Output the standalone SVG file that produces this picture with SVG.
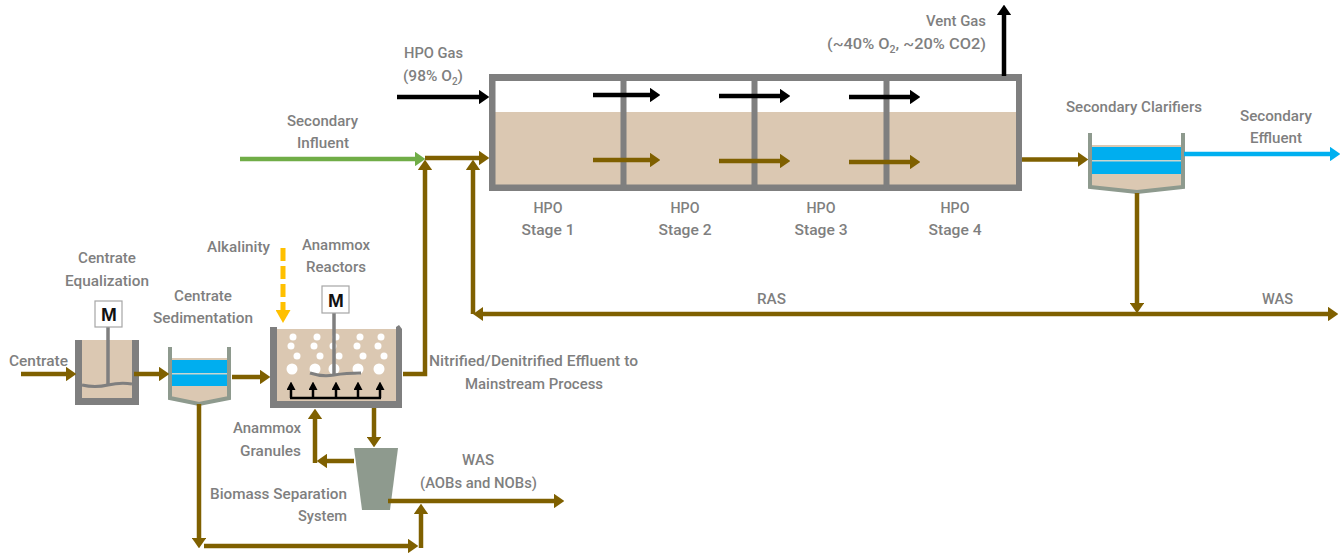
<svg xmlns="http://www.w3.org/2000/svg" width="1343" height="555" viewBox="0 0 1343 555">
<style>
text{font-family:Roboto,"Liberation Sans",Arial,sans-serif;font-size:15.5px;font-weight:500;fill:#7f7f7f;text-anchor:middle}
.s{font-size:10px}
.m{font-family:"Liberation Sans",Arial,sans-serif;font-size:19px;font-weight:bold;fill:#111}
.wall{fill:#7f7f7f}
.grn{fill:#8e9a8e}
.liq{fill:#dbc8b2}
.blue{fill:#00aeef}
.box{fill:#fff;stroke:#a6a6a6;stroke-width:1.2}
.shaft{stroke:#7f7f7f;stroke-width:3.5;fill:none}
.imp{stroke:#7f7f7f;stroke-width:3;fill:none}
.c{fill:none;stroke-width:4.5}
.br{stroke:#7f6000}
.bk{stroke:#000}
.gr{stroke:#70ad47}
.bl{stroke:#00b0f0}
.go{stroke:#ffc000;stroke-width:5}
.bub{fill:#fff}
</style>
<defs>
<marker id="aBr" markerWidth="2.3" markerHeight="3.2" refX="0" refY="1.6" orient="auto" markerUnits="strokeWidth"><path d="M0 0L2.3 1.6L0 3.2Z" fill="#7f6000"/></marker>
<marker id="aBk" markerWidth="2.3" markerHeight="3.2" refX="0" refY="1.6" orient="auto" markerUnits="strokeWidth"><path d="M0 0L2.3 1.6L0 3.2Z" fill="#000"/></marker>
<marker id="aGr" markerWidth="2.3" markerHeight="3.2" refX="0" refY="1.6" orient="auto" markerUnits="strokeWidth"><path d="M0 0L2.3 1.6L0 3.2Z" fill="#70ad47"/></marker>
<marker id="aBl" markerWidth="2.3" markerHeight="3.2" refX="0" refY="1.6" orient="auto" markerUnits="strokeWidth"><path d="M0 0L2.3 1.6L0 3.2Z" fill="#00b0f0"/></marker>
<marker id="aGo" markerWidth="2.6" markerHeight="3" refX="0" refY="1.5" orient="auto" markerUnits="strokeWidth"><path d="M0 0L2.6 1.5L0 3Z" fill="#ffc000"/></marker>
<marker id="aSm" markerWidth="3.4" markerHeight="3.6" refX="0" refY="1.8" orient="auto" markerUnits="strokeWidth"><path d="M0 0L3.4 1.8L0 3.6Z" fill="#000"/></marker>
</defs>

<g id="hpo-reactor">
<rect x="489" y="112" width="533" height="79" class="liq"/>
<path class="wall" fill-rule="evenodd" d="M489 74H1022V191H489ZM495.500 81V184.500H1016V81Z"/>
<rect x="620.500" y="78" width="6" height="110" class="wall"/>
<rect x="751.500" y="78" width="6" height="110" class="wall"/>
<rect x="883.500" y="78" width="6" height="110" class="wall"/>
<text x="548" y="213" textLength="29" lengthAdjust="spacingAndGlyphs">HPO</text>
<text x="548" y="235" textLength="53" lengthAdjust="spacingAndGlyphs">Stage 1</text>
<text x="685" y="213" textLength="29" lengthAdjust="spacingAndGlyphs">HPO</text>
<text x="685" y="235" textLength="53" lengthAdjust="spacingAndGlyphs">Stage 2</text>
<text x="821" y="213" textLength="29" lengthAdjust="spacingAndGlyphs">HPO</text>
<text x="821" y="235" textLength="53" lengthAdjust="spacingAndGlyphs">Stage 3</text>
<text x="955" y="213" textLength="29" lengthAdjust="spacingAndGlyphs">HPO</text>
<text x="955" y="235" textLength="53" lengthAdjust="spacingAndGlyphs">Stage 4</text>
</g>

<g id="secondary-clarifier">
<path class="liq" d="M1090 145H1183V187L1137 192L1090 187Z"/>
<rect x="1091" y="147" width="91" height="27" class="blue"/>
<rect x="1091" y="160" width="91" height="1.500" fill="#c9d6d0"/>
<path d="M1090 133V187L1137 192L1183 187V133" fill="none" stroke="#8e9a8e" stroke-width="4"/>
<text x="1134" y="112" textLength="136" lengthAdjust="spacingAndGlyphs">Secondary Clarifiers</text>
</g>

<g id="centrate-equalization">
<rect x="75" y="340" width="64" height="65" class="liq"/>
<path class="wall" d="M75 340H82V398H132V340H139V405H75Z"/>
<path class="imp" d="M82 385Q95 388 108 385T132 384"/>
<line x1="108" y1="326" x2="108" y2="385" class="shaft"/>
<rect x="95" y="301" width="27" height="26" class="box"/>
<text x="109" y="321" class="m">M</text>
<text x="107" y="263" textLength="58" lengthAdjust="spacingAndGlyphs">Centrate</text>
<text x="107" y="286" textLength="84" lengthAdjust="spacingAndGlyphs">Equalization</text>
</g>

<g id="centrate-sedimentation">
<path class="liq" d="M170 358H229V398L199 404L170 398Z"/>
<rect x="171" y="360" width="56" height="26" class="blue"/>
<rect x="171" y="373" width="56" height="1.500" fill="#c9d6d0"/>
<path d="M170 347V398L199 404L229 398V347" fill="none" stroke="#8e9a8e" stroke-width="4"/>
<text x="203" y="301" textLength="58" lengthAdjust="spacingAndGlyphs">Centrate</text>
<text x="203" y="323" textLength="100" lengthAdjust="spacingAndGlyphs">Sedimentation</text>
</g>

<g id="anammox-reactor">
<rect x="270" y="329" width="132" height="79" class="liq"/>
<g class="bub">
<circle cx="293" cy="337" r="3.500"/><circle cx="317" cy="337" r="3.500"/><circle cx="336" cy="337" r="3.500"/><circle cx="360" cy="337" r="3.500"/><circle cx="381" cy="337" r="3.500"/>
<circle cx="291" cy="346" r="3.500"/><circle cx="314" cy="346" r="3.500"/><circle cx="333" cy="346" r="3.500"/><circle cx="357" cy="346" r="3.500"/><circle cx="378" cy="346" r="3.500"/>
<circle cx="297" cy="356" r="3.500"/><circle cx="320" cy="356" r="3.500"/><circle cx="339" cy="356" r="3.500"/><circle cx="363" cy="356" r="3.500"/><circle cx="384" cy="356" r="3.500"/>
<circle cx="292" cy="369" r="5.500"/><circle cx="315" cy="369" r="5.500"/><circle cx="334" cy="369" r="5.500"/><circle cx="358" cy="369" r="5.500"/><circle cx="379" cy="369" r="5.500"/>
</g>
<path class="wall" d="M270 327H277V401H396V327L399 325L402 329V408H270Z"/>
<path class="imp" d="M310 373Q322 377 334 375T361 373"/>
<line x1="334" y1="312" x2="334" y2="376" class="shaft"/>
<rect x="322" y="286" width="27" height="27" class="box"/>
<text x="336" y="307" class="m">M</text>
<g fill="none" stroke="#000" stroke-width="2.500">
<path d="M290 398H381"/>
<path d="M291 398V390" marker-end="url(#aSm)"/><path d="M313 398V390" marker-end="url(#aSm)"/><path d="M336 398V390" marker-end="url(#aSm)"/><path d="M358 398V390" marker-end="url(#aSm)"/><path d="M380 398V390" marker-end="url(#aSm)"/>
</g>
<text x="336" y="250" textLength="68" lengthAdjust="spacingAndGlyphs">Anammox</text>
<text x="336" y="272" textLength="60" lengthAdjust="spacingAndGlyphs">Reactors</text>
</g>

<g id="biomass-separation">
<path class="grn" d="M354 448H398L390 510H362Z"/>
<text x="278.500" y="499" textLength="137" lengthAdjust="spacingAndGlyphs">Biomass Separation</text>
<text x="322.500" y="521" textLength="49" lengthAdjust="spacingAndGlyphs">System</text>
</g>

<g id="connectors">
<path class="c br" d="M21 374H66" marker-end="url(#aBr)"/>
<path class="c br" d="M134 374H159" marker-end="url(#aBr)"/>
<path class="c br" d="M232 377H260" marker-end="url(#aBr)"/>
<path class="c br" d="M403 374H425V170" marker-end="url(#aBr)"/>
<path class="c gr" d="M240 159H415" marker-end="url(#aGr)"/>
<path class="c br" d="M425 158H479" marker-end="url(#aBr)"/>
<path class="c bk" d="M397 97H479" marker-end="url(#aBk)"/>
<path class="c bk" d="M593 95H650" marker-end="url(#aBk)"/>
<path class="c bk" d="M719 96H780" marker-end="url(#aBk)"/>
<path class="c bk" d="M849 97H910" marker-end="url(#aBk)"/>
<path class="c br" d="M593 160H650" marker-end="url(#aBr)"/>
<path class="c br" d="M719 161H780" marker-end="url(#aBr)"/>
<path class="c br" d="M849 162H910" marker-end="url(#aBr)"/>
<path class="c bk" d="M1004 76V15" marker-end="url(#aBk)"/>
<path class="c br" d="M1022 159.500H1078" marker-end="url(#aBr)"/>
<path class="c bl" d="M1184 154H1330" marker-end="url(#aBl)"/>
<path class="c br" d="M1137 193V303" marker-end="url(#aBr)"/>
<path class="c br" d="M483 314H1328" marker-end="url(#aBr)"/>
<path d="M483 307L473 314L483 321Z" fill="#7f6000"/>
<path class="c br" d="M473 314V170" marker-end="url(#aBr)"/>
<path class="c go" d="M283 248V310" stroke-dasharray="13 5" marker-end="url(#aGo)"/>
<path class="c br" d="M199 404V538" marker-end="url(#aBr)"/>
<path class="c br" d="M204 546H408" marker-end="url(#aBr)"/>
<path class="c br" d="M421 548V514" marker-end="url(#aBr)"/>
<path class="c br" d="M388 501H554" marker-end="url(#aBr)"/>
<path class="c br" d="M374 408V437" marker-end="url(#aBr)"/>
<path class="c br" d="M354 461H327" marker-end="url(#aBr)"/>
<path class="c br" d="M315 463V419" marker-end="url(#aBr)"/>
</g>

<g id="labels">
<text x="38.500" y="366" textLength="59" lengthAdjust="spacingAndGlyphs">Centrate</text>
<text x="238.500" y="252" textLength="63" lengthAdjust="spacingAndGlyphs">Alkalinity</text>
<text x="267" y="433" textLength="68" lengthAdjust="spacingAndGlyphs">Anammox</text>
<text x="270.500" y="456" textLength="61" lengthAdjust="spacingAndGlyphs">Granules</text>
<text x="533.500" y="366" textLength="209" lengthAdjust="spacingAndGlyphs">Nitrified/Denitrified Effluent to</text>
<text x="534" y="389" textLength="138" lengthAdjust="spacingAndGlyphs">Mainstream Process</text>
<text x="478" y="465" textLength="32" lengthAdjust="spacingAndGlyphs">WAS</text>
<text x="478.500" y="488" textLength="117" lengthAdjust="spacingAndGlyphs">(AOBs and NOBs)</text>
<text x="322.500" y="126" textLength="71" lengthAdjust="spacingAndGlyphs">Secondary</text>
<text x="323" y="148" textLength="52" lengthAdjust="spacingAndGlyphs">Influent</text>
<text x="433.500" y="58" textLength="59" lengthAdjust="spacingAndGlyphs">HPO Gas</text>
<text x="433" y="81" textLength="60" lengthAdjust="spacingAndGlyphs">(98% O<tspan class="s" dy="4">2</tspan><tspan dy="-4">)</tspan></text>
<text x="956" y="26" textLength="60" lengthAdjust="spacingAndGlyphs">Vent Gas</text>
<text x="906.500" y="49" textLength="159" lengthAdjust="spacingAndGlyphs">(~40% O<tspan class="s" dy="4">2</tspan><tspan dy="-4">, ~20% CO2)</tspan></text>
<text x="1276" y="121" textLength="72" lengthAdjust="spacingAndGlyphs">Secondary</text>
<text x="1276" y="143" textLength="52" lengthAdjust="spacingAndGlyphs">Effluent</text>
<text x="771.500" y="304" textLength="29" lengthAdjust="spacingAndGlyphs">RAS</text>
<text x="1277.500" y="304" textLength="31" lengthAdjust="spacingAndGlyphs">WAS</text>
</g>
</svg>
